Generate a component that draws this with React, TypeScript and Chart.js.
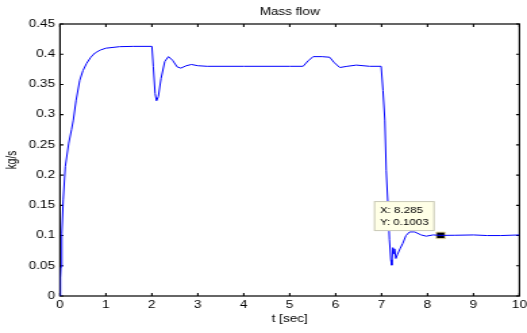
import { useEffect, useRef } from "react";
import { Chart, registerables } from "chart.js";

Chart.register(...registerables);

// ---- data ----
const timeSec = [
  0, 0.01, 0.02, 0.04, 0.07, 0.115, 0.19, 0.25, 0.29, 0.35, 0.43, 0.5, 0.58, 0.67, 0.76, 0.88, 1.0, 1.3, 1.6, 2.0,
  2.03, 2.07, 2.1, 2.14, 2.2, 2.28, 2.36, 2.45, 2.55, 2.63, 2.75, 2.86, 3.0, 3.2, 4.0, 5.0, 5.29,
  5.4, 5.51, 5.7, 5.87, 5.97, 6.09, 6.25, 6.45, 6.74, 6.99,
  7.03, 7.07, 7.1, 7.14, 7.17, 7.2, 7.22, 7.245, 7.265, 7.28, 7.31, 7.34, 7.4, 7.46, 7.53, 7.61, 7.72, 7.86, 7.97, 8.12,
  8.285, 8.6, 9.0, 9.3, 9.6, 10.0,
];
const massFlow = [
  0, 0.03, 0.048, 0.104, 0.159, 0.214, 0.253, 0.275, 0.291, 0.324, 0.357, 0.373, 0.385, 0.395, 0.402, 0.407, 0.41, 0.4125, 0.413, 0.413,
  0.38, 0.335, 0.323, 0.33, 0.36, 0.388, 0.396, 0.39, 0.379, 0.377, 0.381, 0.383, 0.381, 0.38, 0.38, 0.38, 0.38,
  0.389, 0.396, 0.396, 0.395, 0.386, 0.378, 0.38, 0.382, 0.38, 0.38,
  0.34, 0.291, 0.208, 0.148, 0.093, 0.06, 0.051, 0.08, 0.07, 0.078, 0.062, 0.068, 0.078, 0.087, 0.1, 0.106, 0.106, 0.101, 0.099, 0.101,
  0.1003, 0.1005, 0.101, 0.1, 0.1, 0.101,
];
const xTickLabels = ["0", "1", "2", "3", "4", "5", "6", "7", "8", "9", "10"];
const yTickLabels = ["0", "0.05", "0.1", "0.15", "0.2", "0.25", "0.3", "0.35", "0.4", "0.45"];
const tipX = [8.285];
const tipY = [0.1003];
const tipXText = ["8.285"];
const tipYText = ["0.1003"];

// ---- layout ----
const FULL_W = 527;
const FULL_H = 333;
const BASE_W = 390;
const FONT = "'Liberation Sans', Arial, Helvetica, sans-serif";

const framePlugin = {
  id: "matlabFrame",
  beforeDatasetsDraw(chart: any) {
    const { ctx, chartArea } = chart;
    const { left, right, top, bottom } = chartArea;
    const xs = chart.scales.x;
    const ys = chart.scales.y;
    ctx.save();
    ctx.strokeStyle = "#000";
    ctx.lineWidth = 1.1;
    const tl = 3;
    ctx.beginPath();
    xs.ticks.forEach((t: any) => {
      const p = xs.getPixelForValue(t.value);
      ctx.moveTo(p, bottom);
      ctx.lineTo(p, bottom - tl);
      ctx.moveTo(p, top);
      ctx.lineTo(p, top + tl);
    });
    ys.ticks.forEach((t: any) => {
      const p = ys.getPixelForValue(t.value);
      ctx.moveTo(left, p);
      ctx.lineTo(left + 2.5, p);
      ctx.moveTo(right, p);
      ctx.lineTo(right - 2.5, p);
    });
    ctx.stroke();
    ctx.lineWidth = 1.2;
    ctx.strokeRect(left, top, right - left, bottom - top);
    ctx.restore();
  },
};

const datatipPlugin = {
  id: "datatip",
  afterDraw(chart: any) {
    const { ctx } = chart;
    const px = chart.scales.x.getPixelForValue(tipX[0]);
    const py = chart.scales.y.getPixelForValue(tipY[0]);
    const w = 45;
    const h = 30;
    const x0 = px - 4.4 - w;
    const y0 = py - 4.3 - h;
    ctx.save();
    ctx.fillStyle = "#ffffe6";
    ctx.fillRect(x0, y0, w, h);
    ctx.strokeStyle = "#c9c9b8";
    ctx.lineWidth = 1;
    ctx.strokeRect(x0 + 0.5, y0 + 0.5, w - 1, h - 1);
    ctx.fillStyle = "#000";
    ctx.font = `8.5px ${FONT}`;
    ctx.textBaseline = "middle";
    ctx.textAlign = "left";
    ctx.fillText(`X: ${tipXText[0]}`, x0 + 4.5, y0 + 10);
    ctx.fillText(`Y: ${tipYText[0]}`, x0 + 4.5, y0 + 21.6);
    ctx.restore();
  },
};

export default function App() {
  const canvasRef = useRef<HTMLCanvasElement | null>(null);

  useEffect(() => {
    if (!canvasRef.current) return;
    const font = { family: FONT, size: 10, weight: "normal" as const };
    const chart = new Chart(canvasRef.current, {
      type: "line",
      data: {
        datasets: [
          {
            data: timeSec.map((t, i) => ({ x: t, y: massFlow[i] })),
            borderColor: "#0000ff",
            borderWidth: 1,
            pointRadius: 0,
            tension: 0,
            fill: false,
          } as any,
          {
            type: "scatter",
            data: tipX.map((x, i) => ({ x, y: tipY[i] })),
            pointStyle: "rect",
            pointRadius: 4.6,
            backgroundColor: "#000",
            borderColor: "#e6d9a0",
            borderWidth: 1,
            showLine: false,
          } as any,
        ],
      },
      options: {
        animation: false,
        responsive: true,
        maintainAspectRatio: false,
        layout: { padding: { left: 0, right: 5.1, top: 0, bottom: 0 } },
        plugins: {
          legend: { display: false },
          tooltip: { enabled: false },
          title: {
            display: true,
            text: "Mass flow",
            color: "#000",
            font,
            fullSize: false,
            padding: { top: 6.5, bottom: 5.5 },
          },
        },
        scales: {
          x: {
            type: "linear",
            min: 0,
            max: 10,
            afterFit: (s: any) => {
              s.height = 37;
              s.paddingLeft = 0;
              s.paddingRight = 0;
            },
            grid: { display: false, drawTicks: false },
            border: { display: false },
            ticks: {
              stepSize: 1,
              padding: 3,
              color: "#000",
              font,
              maxRotation: 0,
              autoSkip: false,
              callback: (v: any) => xTickLabels[Math.round(Number(v))] ?? "",
            },
            title: {
              display: true,
              text: "t [sec]",
              color: "#000",
              font,
              padding: { top: 0, bottom: 8 },
            },
          },
          y: {
            type: "linear",
            min: 0,
            max: 0.45,
            afterFit: (s: any) => {
              s.width = 44.4;
              s.paddingTop = 0;
              s.paddingBottom = 0;
            },
            grid: { display: false, drawTicks: false },
            border: { display: false },
            ticks: {
              stepSize: 0.05,
              padding: 3.7,
              color: "#000",
              font,
              autoSkip: false,
              callback: (v: any) => yTickLabels[Math.round(Number(v) / 0.05)] ?? "",
            },
            title: {
              display: true,
              text: "kg/s",
              color: "#000",
              font,
              padding: { top: 3.5, bottom: 0 },
            },
          },
        },
      } as any,
      plugins: [framePlugin, datatipPlugin],
    });
    return () => chart.destroy();
  }, []);

  return (
    <div
      style={{
        position: "absolute",
        left: 0,
        top: 0,
        width: FULL_W,
        height: FULL_H,
        overflow: "hidden",
        background: "#fff",
      }}
    >
      <div
        style={{
          width: BASE_W,
          height: FULL_H,
          transform: `scaleX(${FULL_W / BASE_W})`,
          transformOrigin: "0 0",
        }}
      >
        <canvas ref={canvasRef} />
      </div>
    </div>
  );
}
